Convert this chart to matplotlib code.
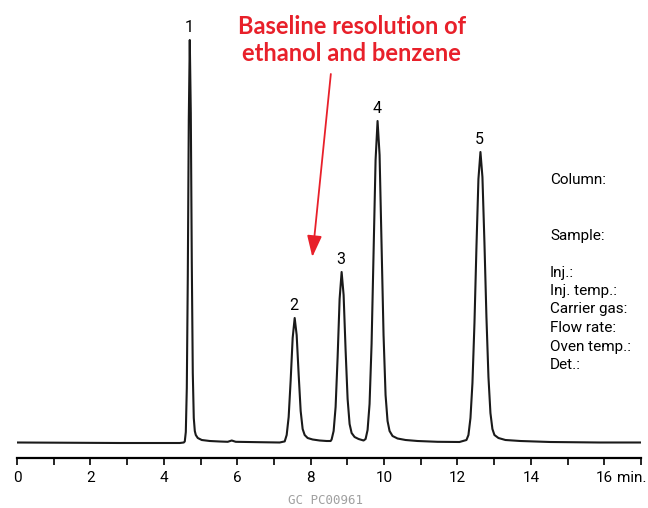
import matplotlib
matplotlib.use("Agg")
import matplotlib.pyplot as plt
from matplotlib import font_manager

# trace: retention time (min) vs detector signal (a.u.)
time_min = [0.000, 1.170, 2.803, 4.435, 4.544, 4.571, 4.599, 4.626, 4.653, 4.680,
            4.707, 4.735, 4.762, 4.789, 4.816, 4.844, 4.871, 4.925, 5.034, 5.252,
            5.524, 5.741, 5.850, 5.959, 6.612, 7.156, 7.293, 7.347, 7.401, 7.456,
            7.510, 7.565, 7.619, 7.674, 7.728, 7.782, 7.837, 7.918, 8.054, 8.245,
            8.435, 8.544, 8.571, 8.626, 8.680, 8.735, 8.789, 8.844, 8.898, 8.952,
            9.007, 9.061, 9.116, 9.197, 9.306, 9.442, 9.497, 9.551, 9.605, 9.660,
            9.714, 9.769, 9.823, 9.878, 9.932, 9.986, 10.041, 10.095, 10.150, 10.231,
            10.367, 10.585, 10.912, 11.456, 12.054, 12.245, 12.299, 12.354, 12.408, 12.463,
            12.517, 12.571, 12.626, 12.680, 12.735, 12.789, 12.844, 12.898, 12.952, 13.007,
            13.116, 13.306, 13.714, 14.531, 15.864, 16.980]
signal = [0.5, 0.3, 0.0, 0.0, 0.5, 1.6, 11, 55, 166, 323,
          403, 330, 180, 70, 25, 12, 8, 5, 3, 2,
          1.5, 1.2, 2.5, 1.2, 0.8, 0.5, 1.6, 8, 26, 63,
          105, 125, 108, 68, 32, 14, 8, 5, 3.5, 2.5,
          2, 2, 3.5, 12, 36, 86, 144, 171, 148, 93,
          44, 19, 10, 6, 4, 2.5, 4, 13, 39, 99,
          190, 283, 322, 288, 198, 108, 48, 22, 12, 7,
          4.5, 3, 2, 1.2, 1, 3, 8, 25, 60, 120,
          196, 264, 291, 266, 200, 126, 66, 30, 14, 8,
          5, 3, 2, 1, 0.5, 0.5]

peak_ids = ["1", "2", "3", "4", "5"]
peak_rt = [4.707, 7.565, 8.844, 9.823, 12.626]
peak_h = [403, 125, 171, 322, 291]

tick_pos = list(range(0, 18))
tick_labels = ["0", "", "2", "", "4", "", "6", "", "8", "", "10", "", "12", "", "14", "", "16", ""]

info_lines = ["Column:", "", "", "Sample:", "", "Inj.:", "Inj. temp.:", "Carrier gas:",
              "Flow rate:", "Oven temp.:", "Det.:"]

names = {f.name for f in font_manager.fontManager.ttflist}
narrow = "Roboto" if "Roboto" in names else "DejaVu Sans"
bold_font = "Lato" if "Lato" in names else "DejaVu Sans"

fig = plt.figure(figsize=(6.48, 5.08), dpi=100)
ax = fig.add_axes([17 / 648, 50 / 508, (641 - 17) / 648, (458 - 20) / 508])

ax.plot(time_min, signal, color="#1a1a1a", lw=1.5, solid_joinstyle="round")
ax.set_xlim(0, 17)
ax.set_ylim(-15, 423)

for s in ["top", "left", "right"]:
    ax.spines[s].set_visible(False)
ax.spines["bottom"].set_linewidth(1.6)
ax.set_yticks([])
ax.set_xticks(tick_pos)
ax.set_xticklabels(tick_labels, fontfamily=narrow, fontsize=11)
ax.tick_params(axis="x", direction="out", length=5, width=1.2, pad=4)
ax.annotate("min.", xy=(16, 0), xycoords=("data", "axes fraction"), xytext=(9, -9),
            textcoords="offset points", fontfamily=narrow, fontsize=11,
            ha="left", va="top")

for pid, rt, h in zip(peak_ids, peak_rt, peak_h):
    ax.annotate(pid, (rt, h), xytext=(-0.5, 9), textcoords="offset points",
                ha="center", va="center", fontsize=11.5, fontfamily=narrow)

ax.text(9.12, 403, "Baseline resolution of\nethanol and benzene", color="#e8202a",
        fontsize=17, fontweight="bold", fontfamily=bold_font, ha="center", va="center",
        linespacing=1.2)
ax.annotate("", xy=(8.046, 186), xytext=(8.55, 369),
            arrowprops=dict(arrowstyle="-|>,head_length=1.3,head_width=0.45",
                            color="#e8202a", lw=1.3, shrinkA=0, shrinkB=0))

for i, line in enumerate(info_lines):
    fig.text(550 / 648, 1 - (180 + i * 18.5) / 508, line, fontfamily=narrow,
             fontsize=11, ha="left", va="center")

fig.text(325 / 648, 1 - 500 / 508, "GC PC00961", fontfamily="DejaVu Sans Mono",
         fontsize=9, color="#a0a0a0", ha="center", va="center")

fig.savefig("out.png", dpi=100)
